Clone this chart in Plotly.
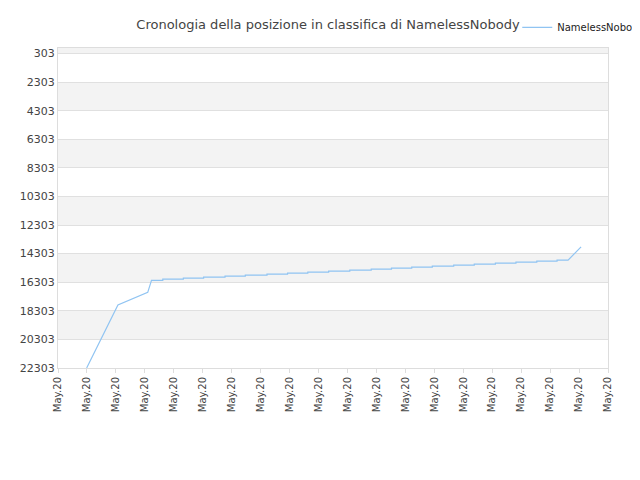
import plotly.graph_objects as go

n_cat = 20
tick_labels = ["May.20"] * n_cat

# Key points (x in category-index units, y = rank)
x_pts = [0.99, 2.07, 3.10, 3.23]
y_pts = [22303, 17893, 17012, 16176]
step_x = [3.23, 3.62, 4.33, 5.03, 5.77, 6.47, 7.22, 7.93, 8.63, 9.35, 10.08, 10.82, 11.52, 12.22, 12.93, 13.67, 14.38, 15.11, 15.82, 16.54, 17.24]
step_y = [16176, 16083, 16013, 15944, 15874, 15804, 15735, 15665, 15595, 15526, 15456, 15386, 15317, 15247, 15177, 15108, 15038, 14968, 14899, 14829, 14760]
end_x = [17.62, 18.07]
end_y = [14760, 13833]

xs = list(x_pts)
ys = list(y_pts)
for i in range(1, len(step_x)):
    xs += [step_x[i], step_x[i]]
    ys += [step_y[i - 1], step_y[i]]
xs += end_x
ys += end_y

yticks = list(range(303, 22304, 2000))

fig = go.Figure()
for k, t in enumerate(yticks[:-1]):
    if k % 2 == 1:
        fig.add_hrect(y0=t, y1=t + 2000, fillcolor="#f3f3f3", line_width=0, layer="below")
fig.add_hrect(y0=-1697, y1=303, fillcolor="#f3f3f3", line_width=0, layer="below")

fig.add_trace(go.Scatter(x=xs, y=ys, mode="lines", name="NamelessNobody",
                         line=dict(color="#90c4f2", width=1.2)))

fig.update_layout(
    width=640, height=480,
    margin=dict(l=50, r=40, t=40, b=120, autoexpand=False),
    paper_bgcolor="white", plot_bgcolor="white",
    font=dict(family="DejaVu Sans", size=11, color="#444"),
    title=dict(text="Cronologia della posizione in classifica di NamelessNobody", x=0.5, y=0.975,
               xanchor="center", font=dict(size=13, color="#444")),
    showlegend=True,
    legend=dict(x=0.835, y=1.11, xanchor="left", yanchor="top", bgcolor="rgba(255,255,255,1)",
                font=dict(size=10, color="#222")),
    xaxis=dict(range=[0, 19], tickmode="array", tickvals=list(range(n_cat)), ticktext=tick_labels,
               tickangle=-90, showgrid=False, showline=True, linecolor="#ddd", mirror=True,
               ticks="outside", ticklen=4, tickcolor="#ddd", tickfont=dict(size=10), zeroline=False,
               automargin=False),
    yaxis=dict(range=[22303, -80], tickmode="array", tickvals=yticks, ticktext=[str(t) for t in yticks],
               showgrid=True, gridcolor="#e0e0e0", showline=True, linecolor="#ddd", mirror=True,
               tickfont=dict(size=11), zeroline=False, automargin=False),
)
fig.write_html("out.html")
